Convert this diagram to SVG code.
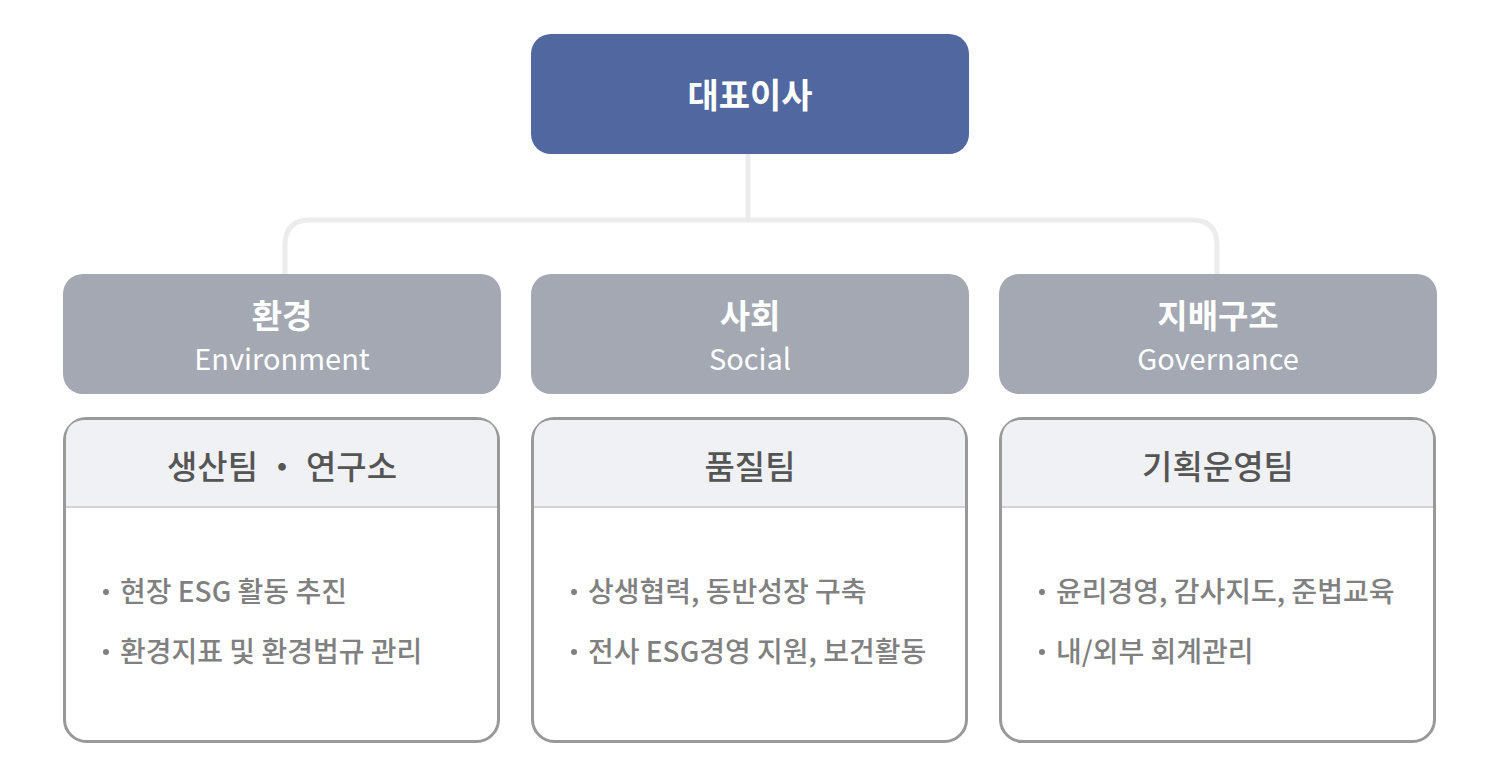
<svg xmlns="http://www.w3.org/2000/svg" width="1500" height="780" viewBox="0 0 1500 780">
<style>
text{font-family:"Noto Sans CJK KR","Noto Sans",sans-serif}
.top{fill:#50679f}
.cat{fill:#a3a8b3}
.ttl{fill:#fff;font-size:34px;font-weight:700;text-anchor:middle}
.ck{fill:#fff;font-size:33px;font-weight:700;text-anchor:middle}
.ce{fill:#fff;font-size:29px;font-weight:400;text-anchor:middle}
.box{fill:#fff;stroke:#999;stroke-width:3}
.hdr{fill:#f0f1f5}
.div{stroke:#d2d2d2;stroke-width:2}
.ht{fill:#555;font-size:33px;font-weight:500;text-anchor:middle}
.bt{fill:#808080;font-size:28px;font-weight:500}
.bd{fill:#808080}
.conn{fill:none;stroke:#ececec;stroke-width:5}
</style>
<rect width="1500" height="780" fill="#fff"/>
<g id="connectors">
<path class="conn" d="M748 154 V220"/>
<path class="conn" d="M285 274 V245 Q285 220 310 220 H1192 Q1217 220 1217 245 V274"/>
</g>
<g id="ceo">
<rect class="top" x="531" y="34" width="438" height="120" rx="20"/>
<text class="ttl" x="750" y="108">대표이사</text>
</g>
<g id="env">
<rect class="cat" x="63" y="274" width="438" height="120" rx="20"/>
<text class="ck" x="282" y="328">환경</text>
<text class="ce" x="282" y="370">Environment</text>
</g>
<g id="soc">
<rect class="cat" x="531" y="274" width="438" height="120" rx="20"/>
<text class="ck" x="750" y="328">사회</text>
<text class="ce" x="750" y="370">Social</text>
</g>
<g id="gov">
<rect class="cat" x="999" y="274" width="438" height="120" rx="20"/>
<text class="ck" x="1218" y="328">지배구조</text>
<text class="ce" x="1218" y="370">Governance</text>
</g>
<g id="env-team">
<rect class="box" x="64.5" y="418.5" width="434" height="323" rx="22"/>
<path class="hdr" d="M66 507 V440 Q66 420 86 420 H477 Q497 420 497 440 V507 Z"/>
<line class="div" x1="66" y1="507" x2="497" y2="507"/>
<text class="ht" x="282" y="479">생산팀 ・ 연구소</text>
<circle class="bd" cx="106" cy="592" r="3"/>
<text class="bt" x="120" y="602">현장 ESG 활동 추진</text>
<circle class="bd" cx="106" cy="652" r="3"/>
<text class="bt" x="120" y="662">환경지표 및 환경법규 관리</text>
</g>
<g id="soc-team">
<rect class="box" x="532.5" y="418.5" width="434" height="323" rx="22"/>
<path class="hdr" d="M534 507 V440 Q534 420 554 420 H945 Q965 420 965 440 V507 Z"/>
<line class="div" x1="534" y1="507" x2="965" y2="507"/>
<text class="ht" x="750" y="479">품질팀</text>
<circle class="bd" cx="574" cy="592" r="3"/>
<text class="bt" x="588" y="602">상생협력, 동반성장 구축</text>
<circle class="bd" cx="574" cy="652" r="3"/>
<text class="bt" x="588" y="662">전사 ESG경영 지원, 보건활동</text>
</g>
<g id="gov-team">
<rect class="box" x="1000.5" y="418.5" width="434" height="323" rx="22"/>
<path class="hdr" d="M1002 507 V440 Q1002 420 1022 420 H1413 Q1433 420 1433 440 V507 Z"/>
<line class="div" x1="1002" y1="507" x2="1433" y2="507"/>
<text class="ht" x="1218" y="479">기획운영팀</text>
<circle class="bd" cx="1042" cy="592" r="3"/>
<text class="bt" x="1056" y="602">윤리경영, 감사지도, 준법교육</text>
<circle class="bd" cx="1042" cy="652" r="3"/>
<text class="bt" x="1056" y="662">내/외부 회계관리</text>
</g>
</svg>
